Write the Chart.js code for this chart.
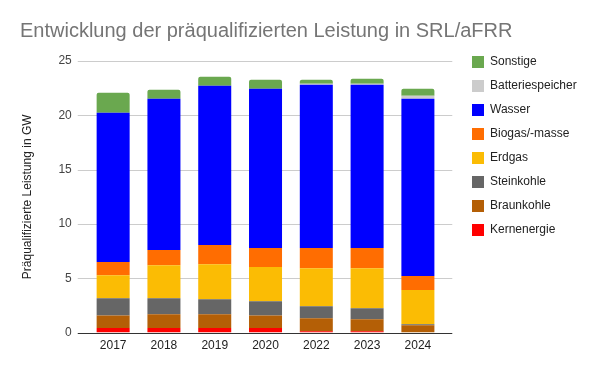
<!DOCTYPE html>
<html>
<head>
<meta charset="utf-8">
<script src="https://cdn.jsdelivr.net/npm/chart.js@4/dist/chart.umd.min.js"></script>
<style>
html,body{margin:0;padding:0;background:#fff;}
#wrap{width:600px;height:371px;position:relative;}
</style>
</head>
<body>
<div id="wrap"><canvas id="c" width="600" height="371"></canvas></div>
<script>
const categories = ['2017','2018','2019','2020','2022','2023','2024'];
const kernenergie = [0.43,0.43,0.43,0.43,0.12,0.12,0];
const braunkohle = [1.14,1.26,1.26,1.14,1.20,1.11,0.68];
const steinkohle = [1.60,1.48,1.38,1.32,1.11,1.01,0.09];
const erdgas = [2.12,3.04,3.23,3.14,3.50,3.69,3.14];
const biogas = [1.20,1.39,1.76,1.75,1.85,1.85,1.29];
const wasser = [13.74,13.93,14.66,14.67,15.04,15.04,16.33];
const batteriespeicher = [0,0,0,0,0.09,0.09,0.27];
const sonstige = [1.85,0.83,0.83,0.83,0.37,0.46,0.65];
const yTicks = [0,5,10,15,20,25];

const FONT = 'Arial, "Liberation Sans", sans-serif';

const gridPlugin = {
  id: 'gridExt',
  beforeDatasetsDraw(chart) {
    const {ctx, chartArea, scales} = chart;
    ctx.save();
    ctx.strokeStyle = '#cccccc';
    ctx.lineWidth = 1;
    yTicks.forEach(v => {
      if (v === 0) return;
      const y = Math.round(scales.y.getPixelForValue(v)) + 0.5;
      ctx.beginPath();
      ctx.moveTo(chartArea.left - 10, y);
      ctx.lineTo(chartArea.right + 9, y);
      ctx.stroke();
    });
    ctx.restore();
  },
  afterDatasetsDraw(chart) {
    const {ctx, chartArea, scales} = chart;
    ctx.save();
    ctx.strokeStyle = '#333333';
    ctx.lineWidth = 1;
    const y = Math.round(scales.y.getPixelForValue(0)) + 0.5;
    ctx.beginPath();
    ctx.moveTo(chartArea.left - 10, y);
    ctx.lineTo(chartArea.right + 9, y);
    ctx.stroke();
    ctx.restore();
  },
  afterLayout(chart) {
    const lg = chart.legend;
    if (!lg) return;
    const w = lg.right - lg.left;
    const h = lg.bottom - lg.top;
    lg.left = 460; lg.right = 460 + w;
    lg.top = 44; lg.bottom = 44 + h;
  }
};

const mk = (label, data, color, extra) => Object.assign({
  label, data, backgroundColor: color, borderWidth: 0,
  barPercentage: 0.65, categoryPercentage: 1.0
}, extra || {});

new Chart(document.getElementById('c'), {
  type: 'bar',
  data: {
    labels: categories,
    datasets: [
      mk('Kernenergie', kernenergie, '#ff0000'),
      mk('Braunkohle', braunkohle, '#b45f06'),
      mk('Steinkohle', steinkohle, '#666666'),
      mk('Erdgas', erdgas, '#fbbc04'),
      mk('Biogas/-masse', biogas, '#ff6d01'),
      mk('Wasser', wasser, '#0000ff'),
      mk('Batteriespeicher', batteriespeicher, '#cccccc'),
      mk('Sonstige', sonstige, '#6aa84f', {borderRadius: {topLeft: 2, topRight: 2, bottomLeft: 0, bottomRight: 0}, borderSkipped: 'bottom'})
    ]
  },
  options: {
    responsive: false,
    animation: false,
    layout: {padding: {left: 20, right: 30, top: 0, bottom: 12}},
    plugins: {
      title: {
        display: true,
        text: 'Entwicklung der präqualifizierten Leistung in SRL/aFRR',
        align: 'start',
        color: '#757575',
        font: {family: FONT, size: 20, weight: 'normal'},
        padding: {top: 19, bottom: 18}
      },
      legend: {
        position: 'right',
        align: 'start',
        reverse: true,
        labels: {
          boxWidth: 12, boxHeight: 12, padding: 12,
          color: '#222222',
          font: {family: FONT, size: 12}
        }
      },
      tooltip: {enabled: false}
    },
    scales: {
      x: {
        stacked: true,
        grid: {display: false, drawTicks: false},
        border: {display: false},
        ticks: {color: '#222222', font: {family: FONT, size: 12}, padding: 6}
      },
      y: {
        stacked: true,
        min: 0, max: 25,
        afterBuildTicks(scale) { scale.ticks = yTicks.map(v => ({value: v})); },
        grid: {display: false, drawTicks: false},
        border: {display: false},
        ticks: {color: '#444444', font: {family: FONT, size: 12}, padding: 16},
        title: {
          display: true,
          text: 'Präqualifizierte Leistung in GW',
          color: '#222222',
          font: {family: FONT, size: 12},
          padding: {top: 0, bottom: 8}
        }
      }
    }
  },
  plugins: [gridPlugin]
});
</script>
</body>
</html>
